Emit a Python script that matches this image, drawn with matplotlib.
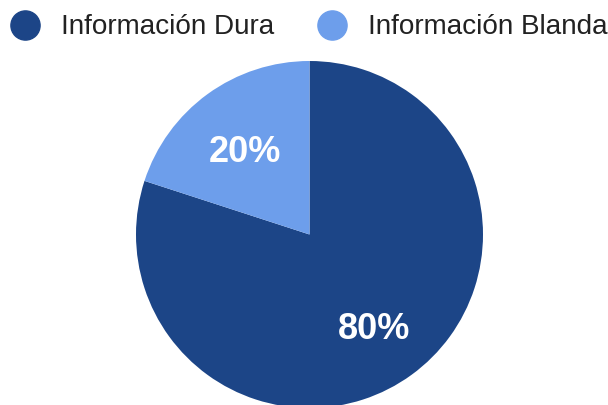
import matplotlib
matplotlib.use("Agg")
import matplotlib.pyplot as plt
from matplotlib.lines import Line2D

# --- datos ---
labels = ["Información Dura", "Información Blanda"]
values = [80, 20]
colors = ["#1c4587", "#6d9eeb"]

plt.rcParams['font.family'] = ['Liberation Sans', 'DejaVu Sans']

fig = plt.figure(figsize=(6.08, 4.05), dpi=100)
ax = fig.add_axes([136 / 608, -3 / 405, 347 / 608, 347 / 405])

wedges, texts, autotexts = ax.pie(
    values, colors=colors, startangle=90, counterclock=False,
    autopct='%1.0f%%', pctdistance=0.63, radius=1,
    wedgeprops=dict(linewidth=0),
    textprops=dict(color='white', fontsize=26, fontweight='bold'),
)
# bajar un poco las etiquetas
for t in autotexts:
    x, y = t.get_position()
    t.set_position((x, y - 0.035))

ax.set_xlim(-1, 1)
ax.set_ylim(-1, 1)
ax.set_aspect('equal')
ax.axis('off')
for w in wedges:
    w.set_clip_on(False)

# leyenda arriba
handles = [Line2D([], [], marker='o', linestyle='', markersize=21,
                  markerfacecolor=c, markeredgecolor=c) for c in colors]
fig.legend(handles, labels, loc='upper left', bbox_to_anchor=(0.0, 0.985),
           ncol=2, frameon=False, fontsize=20.1, labelcolor='#222222',
           handletextpad=0.67, columnspacing=1.5, handlelength=1.2,
           borderaxespad=0, borderpad=0.3)

fig.savefig("out.png", dpi=100)
